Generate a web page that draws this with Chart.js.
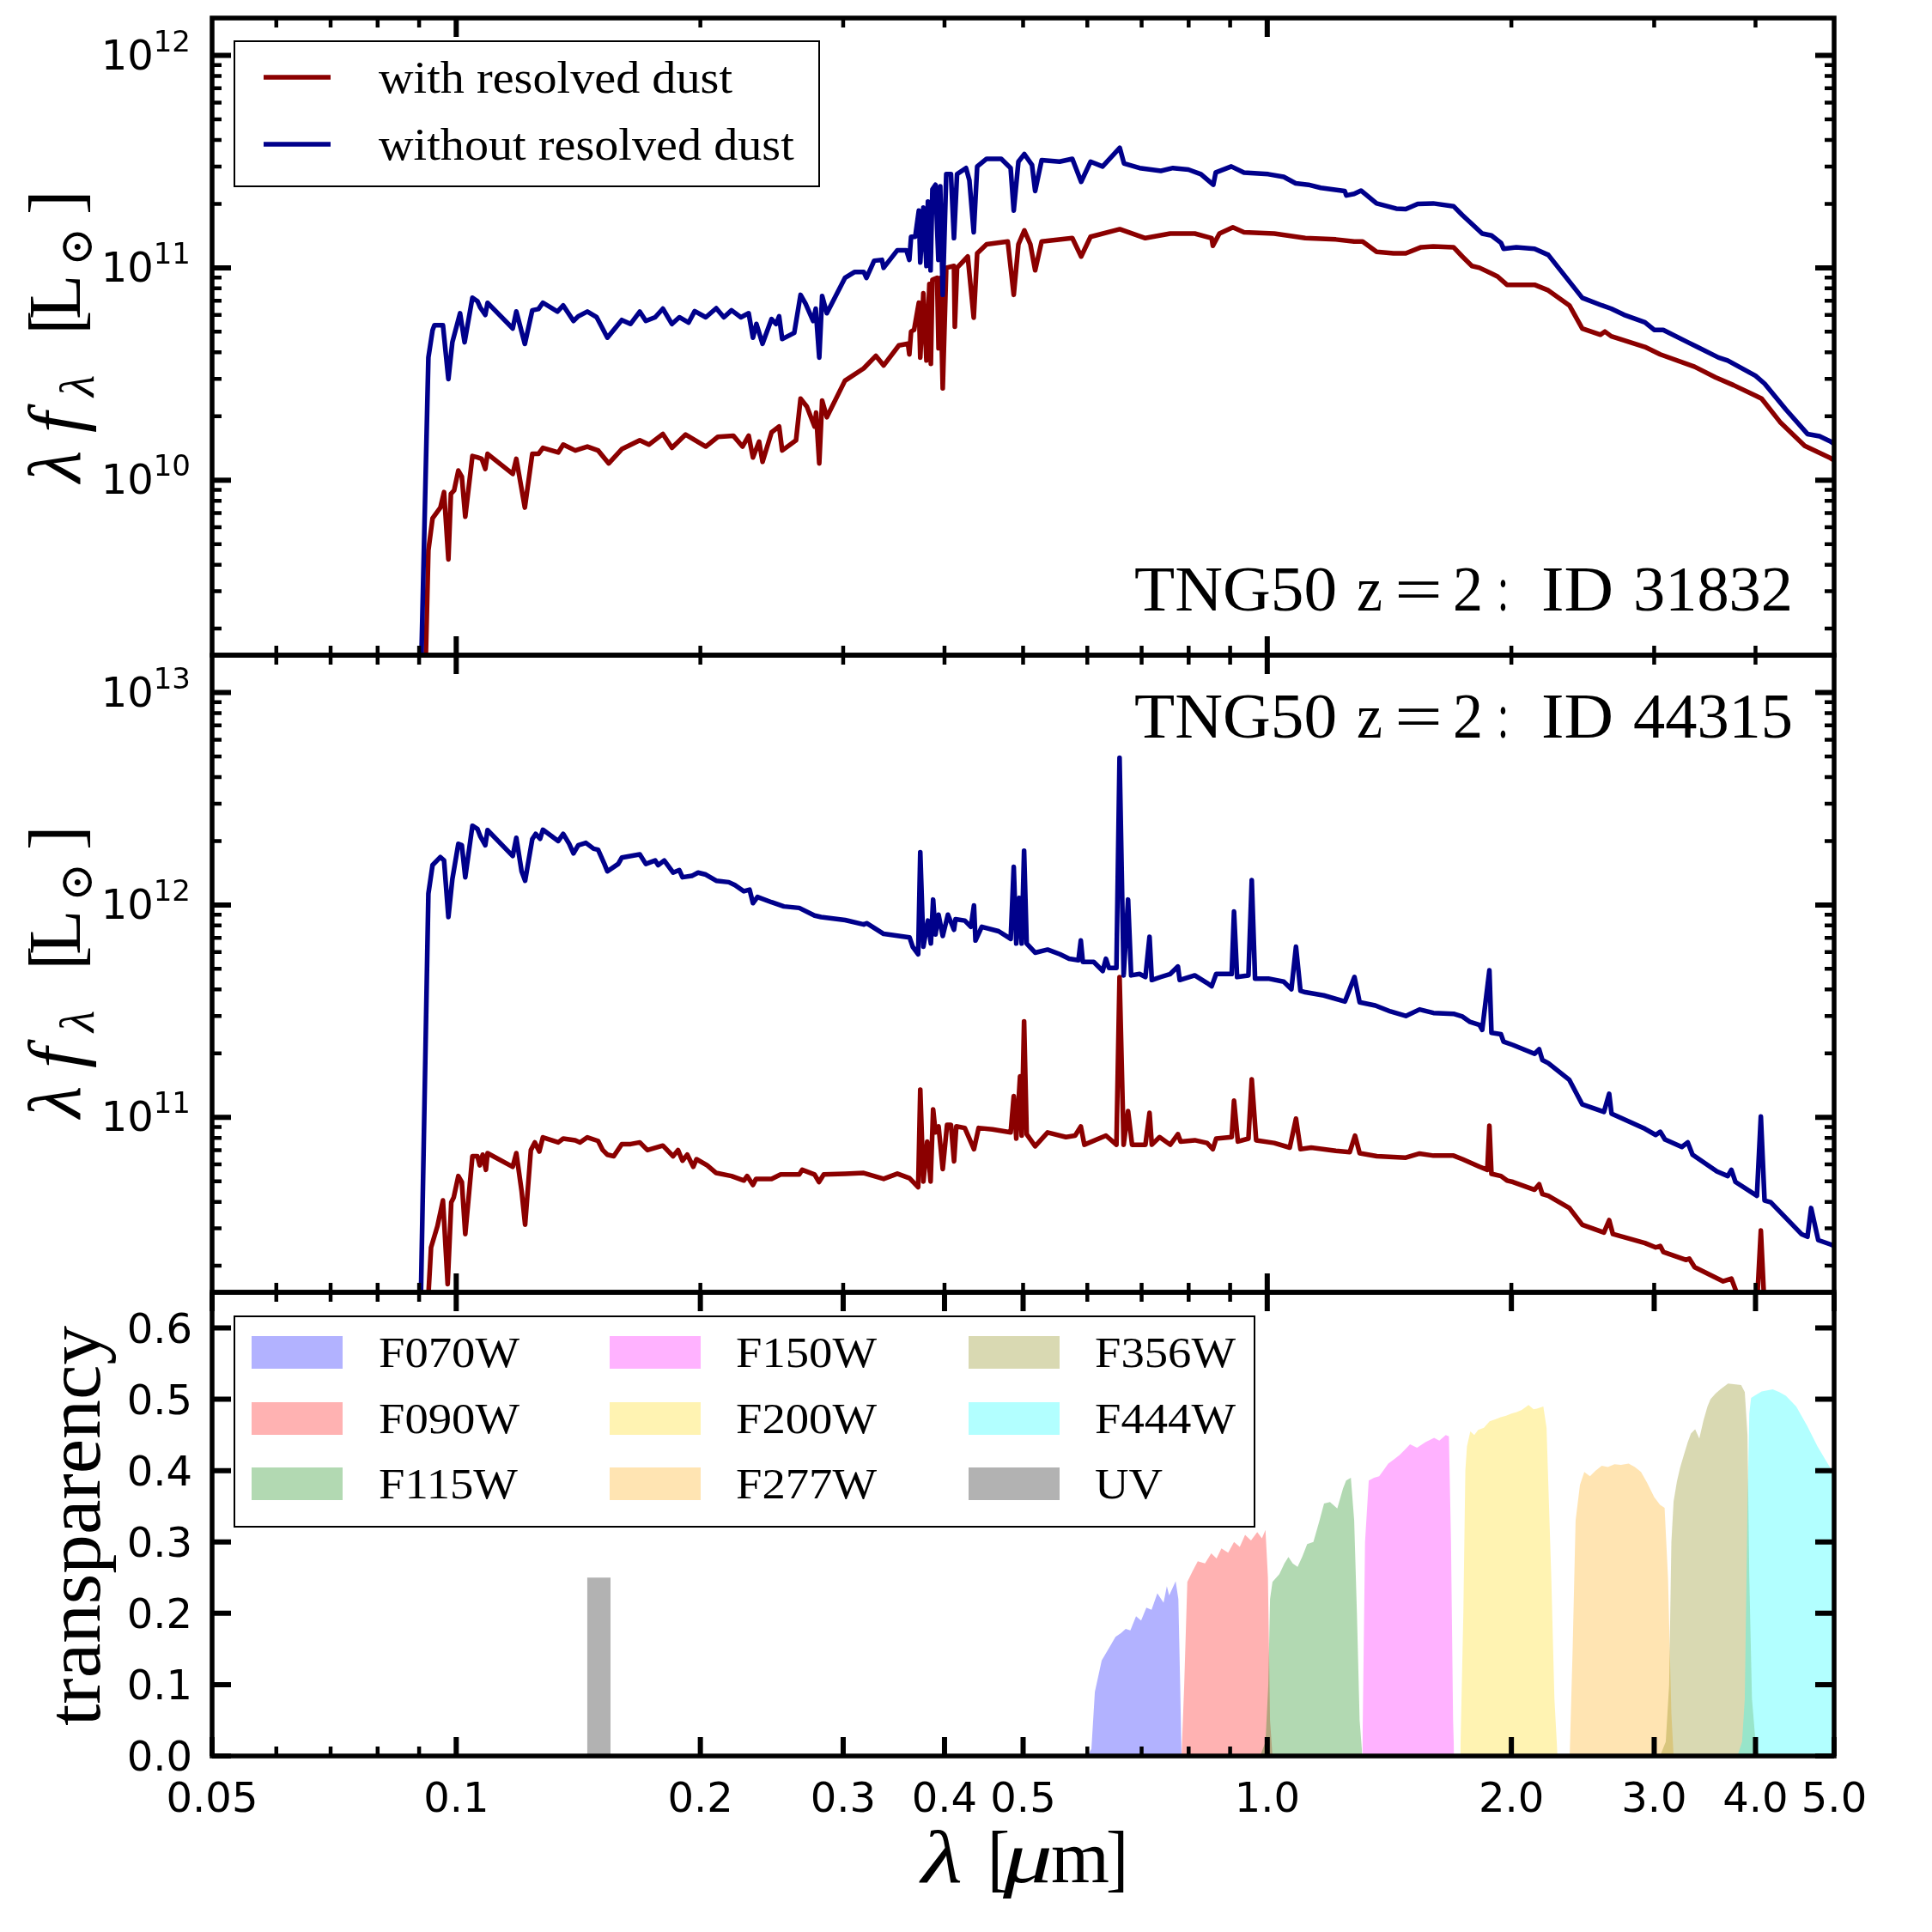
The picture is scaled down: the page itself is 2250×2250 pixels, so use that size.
<!DOCTYPE html>
<html><head><meta charset="utf-8">
<script src="https://cdn.jsdelivr.net/npm/chart.js@4.4.1/dist/chart.umd.min.js"></script>
<style>
html,body{margin:0;padding:0;background:#fff;}
#wrap{position:relative;width:2250px;height:2250px;background:#fff;}
canvas{position:absolute;left:0;top:0;}
</style></head><body>
<div id="wrap">
<canvas id="c1" width="2250" height="2250"></canvas>
<canvas id="c2" width="2250" height="2250"></canvas>
<canvas id="c3" width="2250" height="2250"></canvas>
</div>
<script>
// ---------------- DATA ----------------
// wavelength [micron], lambda f_lambda [L_sun]
const topLabel = 'TNG50 z = 2 : ID 31832';
const midLabel = 'TNG50 z = 2 : ID 44315';
const seriesNames = ['with resolved dust', 'without resolved dust'];

const topBlue = [[0.0906,1.5e9],[0.0924,3.78e10],[0.0935,5.08e10],[0.0940,5.37e10],[0.0963,5.37e10],[0.0978,2.99e10],[0.0989,4.46e10],[0.1011,6.11e10],[0.1024,4.46e10],[0.1047,7.23e10],[0.1062,6.97e10],[0.1070,6.53e10],[0.1086,6.0e10],[0.1093,6.84e10],[0.1174,5.18e10],[0.1186,6.23e10],[0.1215,4.38e10],[0.1241,6.31e10],[0.1263,6.4e10],[0.1279,6.85e10],[0.1333,6.22e10],[0.1355,6.65e10],[0.1395,5.62e10],[0.1414,5.91e10],[0.1451,6.22e10],[0.1490,5.85e10],[0.1536,4.69e10],[0.1600,5.68e10],[0.1640,5.44e10],[0.1684,6.22e10],[0.1713,5.62e10],[0.1759,5.85e10],[0.1798,6.42e10],[0.1845,5.44e10],[0.1884,5.85e10],[0.1934,5.52e10],[0.1968,6.25e10],[0.2031,5.85e10],[0.2092,6.45e10],[0.2138,5.85e10],[0.2185,6.31e10],[0.2244,5.85e10],[0.2294,6.11e10],[0.2322,4.69e10],[0.2345,5.44e10],[0.2386,4.39e10],[0.2448,5.74e10],[0.2480,5.44e10],[0.2501,5.91e10],[0.2523,4.62e10],[0.2611,4.94e10],[0.2658,7.46e10],[0.2696,6.78e10],[0.2755,5.62e10],[0.2775,6.42e10],[0.2803,3.78e10],[0.2826,7.36e10],[0.2864,6.11e10],[0.3015,8.96e10],[0.3097,9.55e10],[0.3181,9.55e10],[0.3205,8.96e10],[0.3276,1.08e11],[0.3349,1.09e11],[0.3365,1.0e11],[0.3499,1.21e11],[0.3590,1.21e11],[0.3620,1.09e11],[0.3638,1.40e11],[0.3681,1.40e11],[0.3719,1.86e11],[0.3734,1.06e11],[0.3767,1.92e11],[0.3800,1.02e11],[0.3816,2.05e11],[0.3845,9.73e10],[0.3865,2.34e11],[0.3899,2.46e11],[0.3931,1.09e11],[0.3952,2.42e11],[0.3980,7.46e10],[0.4020,2.76e11],[0.4074,2.76e11],[0.4109,1.38e11],[0.4145,2.76e11],[0.4252,2.95e11],[0.4293,2.58e11],[0.4346,1.47e11],[0.4389,3.0e11],[0.4508,3.26e11],[0.4699,3.26e11],[0.4826,2.95e11],[0.4869,1.86e11],[0.4934,3.16e11],[0.5018,3.43e11],[0.5128,3.05e11],[0.5174,2.30e11],[0.5270,3.21e11],[0.5546,3.16e11],[0.5750,3.26e11],[0.5896,2.54e11],[0.6055,3.16e11],[0.6266,3.0e11],[0.6579,3.67e11],[0.6659,3.10e11],[0.696,2.95e11],[0.7393,2.86e11],[0.765,2.95e11],[0.7995,2.9e11],[0.8284,2.76e11],[0.858,2.46e11],[0.864,2.81e11],[0.903,3.0e11],[0.936,2.81e11],[1.003,2.76e11],[1.048,2.68e11],[1.084,2.50e11],[1.124,2.46e11],[1.164,2.38e11],[1.246,2.30e11],[1.252,2.19e11],[1.280,2.23e11],[1.305,2.31e11],[1.364,2.01e11],[1.442,1.90e11],[1.482,1.89e11],[1.533,2.0e11],[1.602,2.01e11],[1.697,1.95e11],[1.740,1.77e11],[1.797,1.58e11],[1.841,1.45e11],[1.890,1.42e11],[1.942,1.31e11],[1.956,1.23e11],[2.028,1.25e11],[2.136,1.23e11],[2.221,1.15e11],[2.446,7.22e10],[2.587,6.65e10],[2.656,6.42e10],[2.753,6.01e10],[2.922,5.54e10],[3.0,5.10e10],[3.078,5.10e10],[3.301,4.46e10],[3.39,4.24e10],[3.601,3.78e10],[3.696,3.66e10],[4.0,3.10e10],[4.104,2.85e10],[4.361,2.15e10],[4.636,1.65e10],[4.797,1.61e10],[4.952,1.52e10],[5.0,1.48e10]];

const topRed = [[0.0915,1.0e9],[0.0924,4.68e9],[0.0935,6.62e9],[0.0956,7.43e9],[0.0966,8.79e9],[0.0978,4.24e9],[0.0985,8.63e9],[0.0994,8.95e9],[0.1006,1.11e10],[0.1016,1.04e10],[0.1026,6.73e9],[0.1047,1.30e10],[0.1062,1.28e10],[0.1075,1.26e10],[0.1086,1.13e10],[0.1093,1.33e10],[0.1174,1.07e10],[0.1186,1.26e10],[0.1215,7.43e9],[0.1241,1.33e10],[0.1263,1.33e10],[0.1279,1.42e10],[0.1336,1.35e10],[0.1355,1.47e10],[0.1402,1.38e10],[0.1451,1.44e10],[0.1496,1.38e10],[0.1542,1.20e10],[0.1600,1.40e10],[0.1684,1.54e10],[0.1728,1.47e10],[0.1798,1.65e10],[0.1845,1.42e10],[0.1918,1.64e10],[0.2031,1.44e10],[0.2102,1.60e10],[0.2196,1.62e10],[0.2254,1.44e10],[0.2294,1.62e10],[0.2322,1.28e10],[0.2363,1.52e10],[0.2386,1.22e10],[0.2448,1.68e10],[0.2501,1.79e10],[0.2523,1.38e10],[0.2624,1.54e10],[0.2658,2.42e10],[0.2706,2.22e10],[0.2766,1.79e10],[0.2778,2.08e10],[0.2803,1.20e10],[0.2826,2.37e10],[0.2864,1.98e10],[0.3015,2.94e10],[0.318,3.36e10],[0.3292,3.85e10],[0.3365,3.47e10],[0.3514,4.31e10],[0.3606,4.39e10],[0.3620,3.91e10],[0.3638,5.01e10],[0.3669,5.1e10],[0.3719,6.85e10],[0.3734,3.78e10],[0.3767,7.59e10],[0.3800,3.66e10],[0.3832,8.38e10],[0.3848,3.53e10],[0.3865,8.79e10],[0.3917,8.96e10],[0.3933,4.18e10],[0.3952,8.96e10],[0.3980,2.71e10],[0.4020,1.0e11],[0.4109,1.02e11],[0.4119,5.28e10],[0.4145,1.0e11],[0.4273,1.13e11],[0.4346,5.82e10],[0.4389,1.17e11],[0.4508,1.29e11],[0.4787,1.33e11],[0.4869,7.46e10],[0.4934,1.29e11],[0.5018,1.50e11],[0.5104,1.29e11],[0.5174,9.73e10],[0.5270,1.33e11],[0.5750,1.38e11],[0.5896,1.13e11],[0.6055,1.40e11],[0.6579,1.52e11],[0.7074,1.38e11],[0.7593,1.45e11],[0.814,1.45e11],[0.854,1.38e11],[0.857,1.27e11],[0.873,1.45e11],[0.907,1.55e11],[0.936,1.47e11],[1.020,1.45e11],[1.114,1.38e11],[1.215,1.36e11],[1.280,1.33e11],[1.311,1.33e11],[1.364,1.19e11],[1.431,1.17e11],[1.482,1.17e11],[1.548,1.25e11],[1.602,1.26e11],[1.697,1.25e11],[1.740,1.13e11],[1.788,1.02e11],[1.827,1.0e11],[1.890,9.40e10],[1.923,9.10e10],[1.975,8.32e10],[2.136,8.32e10],[2.221,7.83e10],[2.358,6.65e10],[2.446,5.18e10],[2.576,4.84e10],[2.608,5.01e10],[2.656,4.76e10],[2.922,4.24e10],[3.052,3.91e10],[3.365,3.42e10],[3.571,3.05e10],[3.759,2.80e10],[4.0,2.50e10],[4.07,2.42e10],[4.288,1.88e10],[4.60,1.45e10],[4.95,1.27e10],[5.0,1.24e10]];

const midBlue = [[0.0903,1.0e10],[0.0924,1.13e12],[0.0935,1.54e12],[0.0956,1.68e12],[0.0966,1.62e12],[0.0978,8.77e11],[0.0989,1.32e12],[0.1006,1.94e12],[0.1016,1.91e12],[0.1026,1.35e12],[0.1047,2.36e12],[0.1062,2.28e12],[0.1071,2.10e12],[0.1086,1.91e12],[0.1093,2.25e12],[0.1174,1.70e12],[0.1186,2.07e12],[0.1204,1.44e12],[0.1216,1.30e12],[0.1241,2.04e12],[0.1253,2.16e12],[0.1269,2.05e12],[0.1279,2.26e12],[0.1336,2.0e12],[0.1355,2.16e12],[0.1378,1.94e12],[0.1395,1.75e12],[0.1414,1.91e12],[0.1445,1.96e12],[0.1477,1.84e12],[0.1496,1.82e12],[0.1523,1.56e12],[0.1536,1.44e12],[0.1584,1.56e12],[0.1600,1.67e12],[0.1684,1.73e12],[0.1713,1.56e12],[0.1759,1.62e12],[0.1774,1.54e12],[0.1805,1.62e12],[0.1851,1.42e12],[0.1884,1.46e12],[0.1901,1.35e12],[0.1952,1.37e12],[0.1987,1.42e12],[0.2031,1.39e12],[0.2092,1.30e12],[0.2168,1.28e12],[0.2206,1.24e12],[0.2263,1.16e12],[0.2300,1.18e12],[0.2322,1.02e12],[0.2352,1.09e12],[0.2448,1.03e12],[0.2535,9.84e11],[0.2648,9.68e11],[0.2766,8.91e11],[0.2818,8.77e11],[0.3017,8.49e11],[0.318,8.09e11],[0.3207,8.2e11],[0.3365,7.31e11],[0.3622,7.03e11],[0.3654,6.36e11],[0.3712,5.86e11],[0.3734,1.77e12],[0.3767,6.36e11],[0.3816,8.44e11],[0.3848,6.58e11],[0.3873,1.06e12],[0.3899,7.26e11],[0.3933,9.0e11],[0.3980,7.14e11],[0.4039,9.0e11],[0.4109,7.64e11],[0.4127,8.57e11],[0.4237,8.44e11],[0.4311,7.89e11],[0.4349,9.95e11],[0.4368,6.80e11],[0.4446,7.89e11],[0.4664,7.52e11],[0.4827,6.92e11],[0.4869,1.51e12],[0.4904,6.58e11],[0.4946,1.08e12],[0.4980,6.58e11],[0.5014,1.80e12],[0.5051,6.58e11],[0.5174,5.96e11],[0.5360,6.16e11],[0.555,5.86e11],[0.5697,5.58e11],[0.585,5.49e11],[0.589,6.80e11],[0.5924,5.39e11],[0.611,5.39e11],[0.6268,4.89e11],[0.6326,5.58e11],[0.638,5.05e11],[0.6517,5.05e11],[0.6575,4.93e12],[0.6652,4.66e11],[0.6736,1.06e12],[0.6795,4.66e11],[0.696,4.73e11],[0.7076,4.58e11],[0.7159,7.08e11],[0.7206,4.43e11],[0.7393,4.58e11],[0.7593,4.73e11],[0.776,5.13e11],[0.780,4.43e11],[0.814,4.66e11],[0.843,4.29e11],[0.854,4.14e11],[0.865,4.73e11],[0.904,4.73e11],[0.910,9.31e11],[0.918,4.58e11],[0.948,4.66e11],[0.957,1.31e12],[0.966,4.50e11],[1.003,4.5e11],[1.048,4.35e11],[1.071,4.01e11],[1.085,6.36e11],[1.099,3.94e11],[1.114,3.88e11],[1.174,3.75e11],[1.247,3.51e11],[1.281,4.58e11],[1.300,3.48e11],[1.359,3.36e11],[1.419,3.15e11],[1.482,3.0e11],[1.541,3.22e11],[1.603,3.10e11],[1.697,3.07e11],[1.741,2.98e11],[1.779,2.81e11],[1.827,2.72e11],[1.841,2.58e11],[1.879,4.92e11],[1.890,2.50e11],[1.942,2.46e11],[1.956,2.27e11],[2.009,2.19e11],[2.136,1.99e11],[2.164,2.09e11],[2.184,1.86e11],[2.221,1.80e11],[2.358,1.50e11],[2.446,1.15e11],[2.601,1.06e11],[2.640,1.29e11],[2.658,1.04e11],[2.922,8.83e10],[3.013,8.26e10],[3.052,8.55e10],[3.093,7.87e10],[3.245,7.25e10],[3.30,7.62e10],[3.345,6.67e10],[3.585,5.56e10],[3.697,5.29e10],[3.735,5.66e10],[3.779,4.96e10],[4.016,4.27e10],[4.061,1.01e11],[4.104,4.06e10],[4.176,3.98e10],[4.557,2.82e10],[4.636,2.74e10],[4.684,3.74e10],[4.78,2.64e10],[4.95,2.52e10],[5.0,2.48e10]];

const midRed = [[0.0919,1.0e10],[0.0931,2.44e10],[0.0948,3.07e10],[0.0963,4.06e10],[0.0976,1.64e10],[0.0986,3.98e10],[0.0993,4.20e10],[0.1006,5.29e10],[0.1016,4.96e10],[0.1026,2.82e10],[0.1047,6.56e10],[0.1062,6.56e10],[0.1069,5.94e10],[0.1078,6.67e10],[0.1088,5.66e10],[0.1093,6.78e10],[0.1174,5.85e10],[0.1186,6.78e10],[0.1204,4.49e10],[0.1216,3.12e10],[0.1236,7.01e10],[0.1250,7.62e10],[0.1266,6.90e10],[0.1279,8.05e10],[0.1336,7.62e10],[0.1355,7.94e10],[0.1402,7.79e10],[0.1421,7.62e10],[0.1451,8.05e10],[0.1496,7.74e10],[0.1516,7.01e10],[0.1536,6.67e10],[0.1564,6.56e10],[0.1600,7.48e10],[0.1641,7.48e10],[0.1684,7.62e10],[0.1721,7.01e10],[0.1798,7.36e10],[0.1851,6.56e10],[0.1877,7.01e10],[0.1901,6.25e10],[0.1927,6.67e10],[0.1960,5.85e10],[0.1978,6.35e10],[0.2039,5.94e10],[0.2092,5.47e10],[0.2185,5.29e10],[0.2263,5.04e10],[0.2284,5.29e10],[0.2322,4.80e10],[0.2342,5.13e10],[0.2448,5.13e10],[0.2512,5.38e10],[0.2648,5.38e10],[0.2671,5.66e10],[0.2766,5.38e10],[0.2801,4.96e10],[0.2839,5.38e10],[0.3017,5.42e10],[0.318,5.47e10],[0.3365,5.13e10],[0.3499,5.43e10],[0.3622,5.17e10],[0.3712,4.69e10],[0.3734,1.35e11],[0.3767,4.99e10],[0.3808,7.69e10],[0.3845,4.99e10],[0.3873,1.09e11],[0.3899,8.49e10],[0.3933,9.06e10],[0.3980,5.71e10],[0.4029,9.22e10],[0.4074,9.22e10],[0.4110,6.21e10],[0.4136,9.06e10],[0.4237,8.91e10],[0.4349,7.08e10],[0.4407,8.91e10],[0.4583,8.77e10],[0.4827,8.49e10],[0.4869,1.26e11],[0.4904,7.94e10],[0.4957,1.56e11],[0.4980,8.2e10],[0.5014,2.83e11],[0.5051,8.33e10],[0.5174,7.31e10],[0.5360,8.49e10],[0.5647,8.07e10],[0.5796,8.2e10],[0.589,9.06e10],[0.595,7.43e10],[0.6326,8.2e10],[0.6517,7.43e10],[0.6575,4.57e11],[0.6652,7.43e10],[0.6736,1.07e11],[0.6813,7.43e10],[0.7076,7.43e10],[0.7159,1.05e11],[0.7206,7.43e10],[0.7366,8.07e10],[0.7593,7.43e10],[0.776,8.33e10],[0.782,7.69e10],[0.814,7.8e10],[0.843,7.57e10],[0.857,7.08e10],[0.865,7.94e10],[0.904,8.07e10],[0.910,1.20e11],[0.920,7.69e10],[0.948,7.94e10],[0.957,1.51e11],[0.969,7.8e10],[1.02,7.57e10],[1.066,7.20e10],[1.085,9.86e10],[1.099,7.08e10],[1.133,7.2e10],[1.215,6.96e10],[1.264,6.86e10],[1.283,8.2e10],[1.300,6.78e10],[1.365,6.56e10],[1.482,6.46e10],[1.541,6.75e10],[1.603,6.6e10],[1.697,6.6e10],[1.741,6.35e10],[1.827,5.85e10],[1.868,5.66e10],[1.879,9.12e10],[1.890,5.42e10],[1.942,5.29e10],[1.975,5.04e10],[2.009,4.96e10],[2.136,4.56e10],[2.164,4.84e10],[2.184,4.35e10],[2.221,4.27e10],[2.358,3.74e10],[2.446,3.12e10],[2.601,2.87e10],[2.640,3.28e10],[2.668,2.82e10],[2.922,2.56e10],[3.013,2.44e10],[3.052,2.48e10],[3.08,2.32e10],[3.286,2.13e10],[3.314,2.16e10],[3.365,1.97e10],[3.649,1.69e10],[3.735,1.74e10],[3.79,1.5e10],[4.016,1.3e10],[4.061,2.93e10],[4.104,1.25e10],[4.5,1.0e10],[5.0,8.0e9]];

// filter transmission curves
const filterNames = ['F070W','F090W','F115W','F150W','F200W','F277W','F356W','F444W','UV'];
const F070W = [[0.600,0],[0.607,0.01],[0.613,0.09],[0.625,0.134],[0.637,0.15],[0.650,0.167],[0.660,0.172],[0.669,0.178],[0.678,0.176],[0.689,0.196],[0.699,0.19],[0.7095,0.208],[0.72,0.205],[0.732,0.228],[0.745,0.215],[0.752,0.238],[0.757,0.225],[0.771,0.245],[0.777,0.22],[0.781,0.1],[0.784,0.0]];
const F090W = [[0.784,0],[0.790,0.1],[0.797,0.244],[0.809,0.259],[0.821,0.273],[0.838,0.27],[0.853,0.284],[0.866,0.277],[0.878,0.291],[0.895,0.285],[0.91,0.30],[0.925,0.293],[0.939,0.31],[0.955,0.302],[0.972,0.314],[0.985,0.305],[0.995,0.317],[1.002,0.25],[1.008,0.05],[1.015,0]];
const F115W = [[0.98,0],[0.995,0.02],[1.003,0.1],[1.008,0.22],[1.015,0.244],[1.035,0.255],[1.05,0.27],[1.062,0.279],[1.075,0.27],[1.09,0.265],[1.105,0.28],[1.12,0.297],[1.14,0.30],[1.16,0.33],[1.175,0.354],[1.195,0.356],[1.22,0.347],[1.24,0.375],[1.251,0.386],[1.268,0.39],[1.28,0.33],[1.29,0.2],[1.30,0.05],[1.31,0]];
const F150W = [[1.31,0],[1.32,0.3],[1.334,0.386],[1.354,0.39],[1.374,0.392],[1.39,0.40],[1.41,0.41],[1.43,0.415],[1.456,0.422],[1.48,0.43],[1.50,0.437],[1.53,0.432],[1.567,0.44],[1.606,0.446],[1.63,0.442],[1.66,0.45],[1.675,0.448],[1.685,0.3],[1.695,0.05],[1.70,0]];
const F200W = [[1.73,0],[1.745,0.2],[1.755,0.40],[1.763,0.434],[1.78,0.455],[1.80,0.45],[1.82,0.457],[1.85,0.46],[1.88,0.469],[1.91,0.472],[1.94,0.475],[1.97,0.477],[2.0,0.48],[2.03,0.482],[2.06,0.485],[2.1,0.492],[2.13,0.486],[2.15,0.487],[2.19,0.49],[2.21,0.46],[2.24,0.25],[2.26,0.08],[2.28,0]];
const F277W = [[2.36,0],[2.38,0.15],[2.40,0.33],[2.43,0.38],[2.46,0.398],[2.50,0.392],[2.54,0.40],[2.585,0.407],[2.63,0.405],[2.68,0.409],[2.73,0.408],[2.79,0.41],[2.84,0.405],[2.89,0.398],[2.94,0.383],[3.0,0.363],[3.05,0.352],[3.09,0.348],[3.12,0.25],[3.15,0.06],[3.17,0]];
const F356W = [[3.05,0],[3.10,0.02],[3.13,0.1],[3.15,0.3],[3.17,0.357],[3.20,0.385],[3.229,0.404],[3.26,0.42],[3.30,0.44],[3.33,0.452],[3.37,0.458],[3.41,0.445],[3.45,0.47],[3.49,0.49],[3.52,0.50],[3.57,0.508],[3.62,0.514],[3.70,0.522],[3.78,0.521],[3.84,0.52],[3.88,0.51],[3.91,0.45],[3.93,0.25],[3.96,0.08],[4.0,0.02],[4.05,0]];
const F444W = [[3.80,0],[3.85,0.02],[3.88,0.08],[3.91,0.35],[3.93,0.48],[3.95,0.502],[4.0,0.506],[4.07,0.511],[4.2,0.514],[4.28,0.51],[4.36,0.505],[4.49,0.49],[4.63,0.463],[4.77,0.434],[4.91,0.41],[5.0,0.395],[5.1,0.35]];
const UV = [[0.145,0],[0.145,0.25],[0.155,0.25],[0.155,0]];
const filterCurves = [F070W,F090W,F115W,F150W,F200W,F277W,F356W,F444W,UV];
const filterColors = ['rgba(0,0,255,0.3)','rgba(255,0,0,0.3)','rgba(0,128,0,0.3)','rgba(255,0,255,0.3)','rgba(255,215,0,0.3)','rgba(255,165,0,0.3)','rgba(128,128,0,0.3)','rgba(0,255,255,0.3)','rgba(0,0,0,0.3)'];

// axis ticks
const xMajorLog = [0.1, 1.0];
const xMinorLog = [0.06,0.07,0.08,0.09,0.2,0.3,0.4,0.5,0.6,0.7,0.8,0.9,2,3,4];
const xMajorBottom = [0.05,0.1,0.2,0.3,0.4,0.5,1,2,3,4,5];
const xMinorBottom = [0.06,0.07,0.08,0.09,0.6,0.7,0.8,0.9];
const xTickLabels = ['0.05','0.1','0.2','0.3','0.4','0.5','1.0','2.0','3.0','4.0','5.0'];
const topYMajor = [1e10,1e11,1e12];
const midYMajor = [1e11,1e12,1e13];
const bottomYMajor = [0,0.1,0.2,0.3,0.4,0.5,0.6];
const bottomYLabels = ['0.0','0.1','0.2','0.3','0.4','0.5','0.6'];
const topYRange = [1.5e9, 1.5e12];
const midYRange = [1.5e10, 1.5e13];
const bottomYRange = [0, 0.65];
const xRange = [0.05, 5.0];

// ---------------- HELPERS ----------------
const SERIF = '"Liberation Serif","Times New Roman",serif';
const SANS = '"DejaVu Sans",sans-serif';
const DARKRED = '#8B0000', DARKBLUE = '#00008B';
const toXY = arr => arr.map(p => ({x: p[0], y: p[1]}));
function logMinors(lo, hi) {
  const out = [];
  for (let e = Math.floor(Math.log10(lo)); e <= Math.ceil(Math.log10(hi)); e++)
    for (let m = 2; m <= 9; m++) { const v = m * Math.pow(10, e); if (v > lo && v < hi) out.push(v); }
  return out;
}
function fitText(ctx, text, x, y, font, targetW, align) {
  ctx.save();
  ctx.font = font;
  const w = ctx.measureText(text).width;
  const s = targetW ? targetW / w : 1;
  ctx.translate(x, y);
  ctx.scale(s, 1);
  ctx.textAlign = 'left';
  ctx.textBaseline = 'alphabetic';
  let dx = 0;
  if (align === 'right') dx = -w; else if (align === 'center') dx = -w / 2;
  ctx.fillText(text, dx, 0);
  ctx.restore();
}
function drawFrame(chart, xMaj, xMin, yMaj, yMin) {
  const ctx = chart.ctx, a = chart.chartArea, xs = chart.scales.x, ys = chart.scales.y;
  ctx.save();
  ctx.strokeStyle = '#000';
  ctx.lineCap = 'butt';
  const xt = (vals, len, w) => {
    ctx.lineWidth = w; ctx.beginPath();
    vals.forEach(v => {
      const p = xs.getPixelForValue(v);
      if (p < a.left - 1 || p > a.right + 1) return;
      ctx.moveTo(p, a.bottom); ctx.lineTo(p, a.bottom - len);
      ctx.moveTo(p, a.top); ctx.lineTo(p, a.top + len);
    });
    ctx.stroke();
  };
  const yt = (vals, len, w) => {
    ctx.lineWidth = w; ctx.beginPath();
    vals.forEach(v => {
      const p = ys.getPixelForValue(v);
      if (p < a.top - 1 || p > a.bottom + 1) return;
      ctx.moveTo(a.left, p); ctx.lineTo(a.left + len, p);
      ctx.moveTo(a.right, p); ctx.lineTo(a.right - len, p);
    });
    ctx.stroke();
  };
  xt(xMin, 11, 4.5); xt(xMaj, 22, 6);
  yt(yMin, 11, 4.5); yt(yMaj, 22, 6);
  ctx.lineWidth = 5.5;
  ctx.strokeRect(a.left, a.top, a.right - a.left, a.bottom - a.top);
  ctx.restore();
}
function drawLogYLabels(chart, majors) {
  const ctx = chart.ctx, ys = chart.scales.y;
  ctx.save(); ctx.fillStyle = '#000'; ctx.textBaseline = 'alphabetic';
  majors.forEach(v => {
    const py = ys.getPixelForValue(v);
    const e = String(Math.round(Math.log10(v)));
    ctx.font = '34px ' + SANS;
    const sw = ctx.measureText(e).width;
    const right = 222;
    ctx.textAlign = 'left';
    ctx.fillText(e, right - sw, py - 5);
    ctx.font = '48px ' + SANS;
    ctx.textAlign = 'right';
    ctx.fillText('10', right - sw, py + 16);
  });
  ctx.restore();
}
function drawYAxisTitle(ctx, baseX, startY) {
  const pieces = [
    ['λ', 0, 'italic 86px ' + SERIF, 0],
    ['f', 58, 'italic 86px ' + SERIF, 0],
    ['λ', 100, 'italic 58px ' + SERIF, 16],
    ['[', 172, '86px ' + SERIF, 0],
    ['L', 190, '86px ' + SERIF, 0],
    ['⊙', 252, '54px "DejaVu Serif",serif', 14],
    [']', 312, '86px ' + SERIF, 0]
  ];
  ctx.save();
  ctx.fillStyle = '#000';
  ctx.translate(baseX, startY);
  ctx.rotate(-Math.PI / 2);
  ctx.textAlign = 'left'; ctx.textBaseline = 'alphabetic';
  pieces.forEach(p => { ctx.font = p[2]; ctx.fillText(p[0], p[1], p[3]); });
  ctx.restore();
}
function drawPanelTag(ctx, text, baseY) {
  // split "TNG50 z = 2 : ID 31832" into pieces placed like the LaTeX original
  const parts = text.split(' ');
  const slots = [[1321,236],[1580,30],[1624,56],[1692,35],[1744,13],[1795,84],[1902,186]];
  ctx.save(); ctx.fillStyle = '#000';
  parts.forEach((t, i) => { const s = slots[i]; fitText(ctx, t, s[0], baseY, '74px ' + SERIF, s[1], 'left'); });
  ctx.restore();
}

// ---------------- PLUGINS ----------------
const topDeco = {
  id: 'topDeco',
  afterDraw(chart) {
    const ctx = chart.ctx;
    drawFrame(chart, xMajorLog, xMinorLog, topYMajor, logMinors(topYRange[0], topYRange[1]));
    drawLogYLabels(chart, topYMajor);
    drawYAxisTitle(ctx, 93, 562);
    drawPanelTag(ctx, topLabel, 711);
    // legend
    ctx.save();
    ctx.fillStyle = '#fff'; ctx.fillRect(273, 48, 681, 169);
    ctx.strokeStyle = '#000'; ctx.lineWidth = 2; ctx.strokeRect(273, 48, 681, 169);
    const rows = [[seriesNames[0], DARKRED, 90], [seriesNames[1], DARKBLUE, 168]];
    ctx.font = '52px ' + SERIF;
    const sc = 412 / ctx.measureText(seriesNames[0]).width;
    rows.forEach(r => {
      ctx.strokeStyle = r[1]; ctx.lineWidth = 5.5; ctx.lineCap = 'butt';
      ctx.beginPath(); ctx.moveTo(307, r[2]); ctx.lineTo(385, r[2]); ctx.stroke();
      ctx.fillStyle = '#000';
      ctx.font = '52px ' + SERIF;
      const w = ctx.measureText(r[0]).width;
      fitText(ctx, r[0], 441, r[2] + 18, '52px ' + SERIF, w * sc, 'left');
    });
    ctx.restore();
  }
};
const midDeco = {
  id: 'midDeco',
  afterDraw(chart) {
    const ctx = chart.ctx;
    drawFrame(chart, xMajorLog, xMinorLog, midYMajor, logMinors(midYRange[0], midYRange[1]));
    drawLogYLabels(chart, midYMajor);
    drawYAxisTitle(ctx, 93, 1302);
    drawPanelTag(ctx, midLabel, 859);
  }
};
const botDeco = {
  id: 'botDeco',
  afterDraw(chart) {
    const ctx = chart.ctx, xs = chart.scales.x, ys = chart.scales.y;
    drawFrame(chart, xMajorBottom, xMinorBottom, bottomYMajor, []);
    ctx.save();
    ctx.fillStyle = '#000'; ctx.textBaseline = 'alphabetic';
    ctx.font = '48px ' + SANS;
    ctx.textAlign = 'right';
    bottomYMajor.forEach((v, i) => ctx.fillText(bottomYLabels[i], 224, ys.getPixelForValue(v) + 17));
    ctx.textAlign = 'center';
    xMajorBottom.forEach((v, i) => ctx.fillText(xTickLabels[i], xs.getPixelForValue(v), 2110));
    // y title
    ctx.save();
    ctx.translate(116, 2010); ctx.rotate(-Math.PI / 2);
    fitText(ctx, 'transparency', 0, 0, '88px ' + SERIF, 466, 'left');
    ctx.restore();
    // x title: λ [μm]
    fitText(ctx, 'λ', 1073, 2192, 'italic 86px ' + SERIF, 48, 'left');
    fitText(ctx, '[', 1150, 2192, '86px ' + SERIF, 26, 'left');
    fitText(ctx, 'μ', 1168, 2192, 'italic 86px ' + SERIF, 58, 'left');
    fitText(ctx, 'm', 1224, 2192, '86px ' + SERIF, 68, 'left');
    fitText(ctx, ']', 1288, 2192, '86px ' + SERIF, 26, 'left');
    // legend
    ctx.fillStyle = '#fff'; ctx.fillRect(273, 1533, 1188, 245);
    ctx.strokeStyle = '#000'; ctx.lineWidth = 2; ctx.strokeRect(273, 1533, 1188, 245);
    ctx.font = '50px ' + SERIF;
    const sc = 164 / ctx.measureText(filterNames[0]).width;
    const colPatch = [293, 710, 1128], colText = [441, 857, 1275], rowY = [1575, 1652, 1728];
    filterNames.forEach((n, i) => {
      const c = Math.floor(i / 3), r = i % 3;
      ctx.fillStyle = filterColors[i];
      ctx.fillRect(colPatch[c], rowY[r] - 19, 106, 38);
      ctx.fillStyle = '#000';
      ctx.font = '50px ' + SERIF;
      const w = ctx.measureText(n).width;
      fitText(ctx, n, colText[c], rowY[r] + 17, '50px ' + SERIF, w * sc, 'left');
    });
    ctx.restore();
  }
};

// ---------------- CHARTS ----------------
function lineDs(label, arr, color) {
  return { label, data: toXY(arr), borderColor: color, borderWidth: 5.5, fill: false,
           pointRadius: 0, tension: 0, borderJoinStyle: 'round', borderCapStyle: 'butt' };
}
function baseOptions(pad, yType, yRange) {
  return {
    responsive: false, animation: false, devicePixelRatio: 1,
    layout: { padding: pad },
    plugins: { legend: { display: false }, tooltip: { enabled: false } },
    elements: { point: { radius: 0 } },
    scales: {
      x: { type: 'logarithmic', min: xRange[0], max: xRange[1], display: false },
      y: { type: yType, min: yRange[0], max: yRange[1], display: false }
    }
  };
}
new Chart(document.getElementById('c1'), {
  type: 'line',
  data: { datasets: [lineDs(seriesNames[1], topBlue, DARKBLUE), lineDs(seriesNames[0], topRed, DARKRED)] },
  options: baseOptions({ left: 247, right: 114, top: 21, bottom: 1487 }, 'logarithmic', topYRange),
  plugins: [topDeco]
});
new Chart(document.getElementById('c2'), {
  type: 'line',
  data: { datasets: [lineDs(seriesNames[1], midBlue, DARKBLUE), lineDs(seriesNames[0], midRed, DARKRED)] },
  options: baseOptions({ left: 247, right: 114, top: 763, bottom: 745 }, 'logarithmic', midYRange),
  plugins: [midDeco]
});
const filterDs = filterNames.map((n, i) => ({
  label: n, data: toXY(filterCurves[i]), fill: 'origin', backgroundColor: filterColors[i],
  borderColor: 'rgba(0,0,0,0)', borderWidth: 0, pointRadius: 0, tension: 0
})).reverse();
new Chart(document.getElementById('c3'), {
  type: 'line',
  data: { datasets: filterDs },
  options: baseOptions({ left: 247, right: 114, top: 1505, bottom: 205 }, 'linear', bottomYRange),
  plugins: [botDeco]
});
</script>
</body></html>
